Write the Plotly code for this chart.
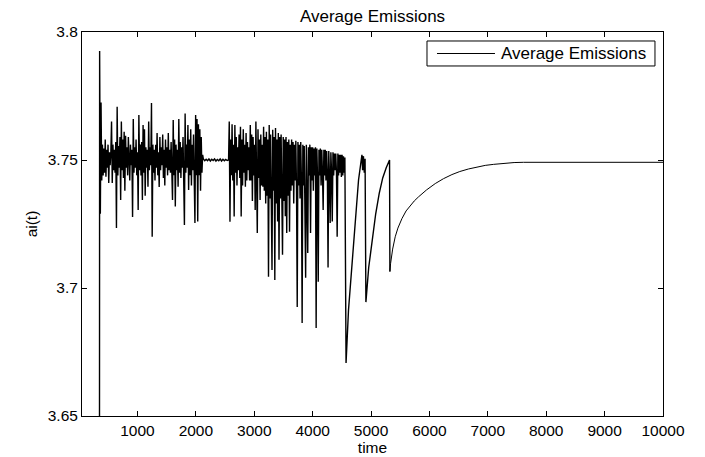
import numpy as np
import plotly.graph_objects as go

# ---- data ----
# start of the series (vertical jump up at the very beginning)
t_start = [349, 351]
v_start = [3.6000, 3.7926]

# noisy section 1 : time 352 .. 2116, step 12
sec1_t0 = 352
sec1_step = 12
sec1_vals = [
    3.7926, 3.7290, 3.7725, 3.7420, 3.7560, 3.7440, 3.7545, 3.7450, 3.7580, 3.7435,
    3.7540, 3.7470, 3.7560, 3.7410, 3.7530, 3.7480, 3.7530, 3.7650, 3.7410, 3.7560,
    3.7460, 3.7540, 3.7450, 3.7570, 3.7234, 3.7708, 3.7440, 3.7555, 3.7470, 3.7590,
    3.7344, 3.7650, 3.7460, 3.7580, 3.7430, 3.7610, 3.7380, 3.7595, 3.7470, 3.7550,
    3.7440, 3.7590, 3.7460, 3.7420, 3.7560, 3.7480, 3.7540, 3.7277, 3.7660, 3.7450,
    3.7550, 3.7470, 3.7580, 3.7440, 3.7530, 3.7305, 3.7676, 3.7460, 3.7560, 3.7440,
    3.7570, 3.7344, 3.7637, 3.7450, 3.7620, 3.7360, 3.7550, 3.7470, 3.7540, 3.7396,
    3.7650, 3.7460, 3.7550, 3.7480, 3.7723, 3.7200, 3.7560, 3.7450, 3.7540, 3.7420,
    3.7560, 3.7470, 3.7605, 3.7440, 3.7530, 3.7395, 3.7590, 3.7460, 3.7550, 3.7480,
    3.7600, 3.7430, 3.7540, 3.7400, 3.7580, 3.7470, 3.7550, 3.7440, 3.7605, 3.7460,
    3.7540, 3.7450, 3.7570, 3.7480, 3.7344, 3.7656, 3.7440, 3.7580, 3.7318, 3.7560,
    3.7460, 3.7540, 3.7396, 3.7660, 3.7450, 3.7570, 3.7430, 3.7550, 3.7470, 3.7590,
    3.7440, 3.7246, 3.7682, 3.7450, 3.7560, 3.7470, 3.7637, 3.7383, 3.7580, 3.7440,
    3.7620, 3.7400, 3.7560, 3.7460, 3.7600, 3.7430, 3.7254, 3.7676, 3.7440, 3.7660,
    3.7260, 3.7640, 3.7440, 3.7620, 3.7380, 3.7590, 3.7450, 3.7520,
]

# quiet (flat) section : time 2128 .. 2536, step 24
flat_t0 = 2128
flat_step = 24
flat_vals = [
    3.7504, 3.7497, 3.7503, 3.7497, 3.7504, 3.7496, 3.7503, 3.7498, 3.7504,
    3.7496, 3.7502, 3.7497, 3.7504, 3.7496, 3.7503, 3.7497, 3.7502, 3.7498,
]

# noisy section 2 : time 2560 .. 4552, step 12
sec2_t0 = 2560
sec2_step = 12
sec2_vals = [
    3.7500, 3.7650, 3.7259, 3.7580, 3.7440, 3.7640, 3.7420, 3.7560, 3.7279, 3.7637,
    3.7450, 3.7590, 3.7400, 3.7550, 3.7460, 3.7600, 3.7430, 3.7630, 3.7279, 3.7580,
    3.7400, 3.7620, 3.7450, 3.7560, 3.7396, 3.7605, 3.7420, 3.7570, 3.7460, 3.7550,
    3.7420, 3.7637, 3.7420, 3.7600, 3.7340, 3.7590, 3.7440, 3.7560, 3.7305, 3.7650,
    3.7400, 3.7215, 3.7620, 3.7430, 3.7580, 3.7344, 3.7600, 3.7400, 3.7560, 3.7396,
    3.7630, 3.7380, 3.7590, 3.7330, 3.7610, 3.7360, 3.7580, 3.7044, 3.7637, 3.7350,
    3.7600, 3.7250, 3.7070, 3.7618, 3.7380, 3.7590, 3.7031, 3.7625, 3.7330, 3.7580,
    3.7260, 3.7605, 3.7110, 3.7590, 3.7350, 3.7600, 3.7300, 3.7130, 3.7590, 3.7340,
    3.7580, 3.7280, 3.7590, 3.7215, 3.7570, 3.7360, 3.7580, 3.7220, 3.7560, 3.7380,
    3.7580, 3.7400, 3.7570, 3.7330, 3.7560, 3.7420, 3.7575, 3.7380, 3.6926, 3.7570,
    3.7400, 3.7560, 3.7350, 3.7570, 3.7420, 3.6863, 3.7560, 3.7400, 3.7555, 3.7380,
    3.7040, 3.7560, 3.7420, 3.7137, 3.7550, 3.7440, 3.7560, 3.7215, 3.7550, 3.7420,
    3.7550, 3.7380, 3.7545, 3.7440, 3.7550, 3.6844, 3.7545, 3.7430, 3.7024, 3.7540,
    3.7440, 3.7545, 3.7400, 3.7540, 3.7450, 3.7305, 3.7540, 3.7440, 3.7540, 3.7420,
    3.7535, 3.7450, 3.7080, 3.7535, 3.7440, 3.7254, 3.7530, 3.7450, 3.7260, 3.7530,
    3.7440, 3.7525, 3.7460, 3.7525, 3.7450, 3.7200, 3.7525, 3.7440, 3.7520, 3.7450,
    3.7520, 3.7434, 3.7520, 3.7440, 3.7515, 3.7450, 3.7510,
]

# saw-tooth part (ends at the last drop)
saw_t = [4572, 4614, 4672, 4729, 4786, 4844, 4856, 4870, 4884, 4898, 4912,
         4960, 5020, 5080, 5140, 5200, 5260, 5317, 5323]
saw_v = [3.6707, 3.6914, 3.7098, 3.7266, 3.7422, 3.7520, 3.7460, 3.7515, 3.7450, 3.7505, 3.6945,
         3.7080, 3.7190, 3.7290, 3.7370, 3.7430, 3.7470, 3.7500, 3.7064]

# smooth recovery after the last drop
rec_t = [5323, 5335, 5370, 5414, 5460, 5529, 5600, 5671, 5740, 5813, 5950, 6100,
         6240, 6385, 6520, 6670, 6800, 6956, 7100, 7267, 7450, 7610, 10000]
rec_v = [3.7064, 3.7096, 3.7152, 3.7200, 3.7234, 3.7271, 3.7301, 3.7322, 3.7340, 3.7356, 3.7383, 3.7408,
         3.7427, 3.7443, 3.7455, 3.7465, 3.7472, 3.7479, 3.7483, 3.7487, 3.7490, 3.7491, 3.7491]

series_name = "Average Emissions"
x_ticks = [1000, 2000, 3000, 4000, 5000, 6000, 7000, 8000, 9000, 10000]
x_tick_text = ["1000", "2000", "3000", "4000", "5000", "6000", "7000", "8000", "9000", "10000"]
y_ticks = [3.65, 3.70, 3.75, 3.80]
y_tick_text = ["3.65", "3.7", "3.75", "3.8"]

# ---- assemble ----
sec1_t = [sec1_t0 + sec1_step * i for i in range(len(sec1_vals))]
flat_t = [flat_t0 + flat_step * i for i in range(len(flat_vals))]
sec2_t = [sec2_t0 + sec2_step * i for i in range(len(sec2_vals))]

t_noisy = t_start + sec1_t + flat_t + sec2_t + saw_t
v_noisy = v_start + sec1_vals + flat_vals + sec2_vals + saw_v

FONT = "Liberation Sans, Arial, Helvetica, sans-serif"

fig = go.Figure()
fig.add_trace(go.Scatter(
    x=t_noisy, y=v_noisy, mode="lines", name=series_name,
    legendgroup="ae", showlegend=False,
    line=dict(color="black", width=1.4),
))
fig.add_trace(go.Scatter(
    x=rec_t, y=rec_v, mode="lines", name=series_name,
    legendgroup="ae", showlegend=False,
    line=dict(color="black", width=1),
))

axis_common = dict(
    showline=True, linecolor="black", linewidth=1, mirror="ticks",
    ticks="inside", ticklen=5, tickcolor="black", tickwidth=1,
    showgrid=False, zeroline=False, automargin=False,
    tickfont=dict(family=FONT, size=15.5, color="black"),
)

# MATLAB-style legend box (drawn in paper coordinates of the axes)
fig.add_shape(type="rect", xref="paper", yref="paper",
              x0=0.5938, x1=0.9862, y0=0.9115, y1=0.9766,
              line=dict(color="black", width=1), fillcolor="white", layer="above")
fig.add_shape(type="line", xref="paper", yref="paper",
              x0=0.6110, x1=0.7108, y0=0.944, y1=0.944,
              line=dict(color="black", width=1), layer="above")
fig.add_annotation(text=series_name, xref="paper", yref="paper",
                   x=0.7177, y=0.944, xanchor="left", yanchor="middle",
                   showarrow=False, font=dict(family=FONT, size=17, color="black"))

fig.update_layout(
    width=697, height=449,
    margin=dict(l=74, r=42, t=24, b=41),
    paper_bgcolor="white", plot_bgcolor="white",
    font=dict(family=FONT, size=15, color="black"),
    title=dict(text="Average Emissions", x=0.5, xref="paper", xanchor="center",
               y=1 - 8 / 449, yref="container", yanchor="middle",
               font=dict(family=FONT, size=17, color="black")),
    xaxis=dict(range=[50, 10000], tickvals=x_ticks, ticktext=x_tick_text,
               title=dict(text="time", standoff=4, font=dict(family=FONT, size=15.5)),
               **axis_common),
    yaxis=dict(range=[3.65, 3.80], tickvals=y_ticks, ticktext=y_tick_text,
               title=dict(text="ai(t)", standoff=6, font=dict(family=FONT, size=15.5)),
               **axis_common),
    showlegend=False,
)

fig.write_html("out.html")
